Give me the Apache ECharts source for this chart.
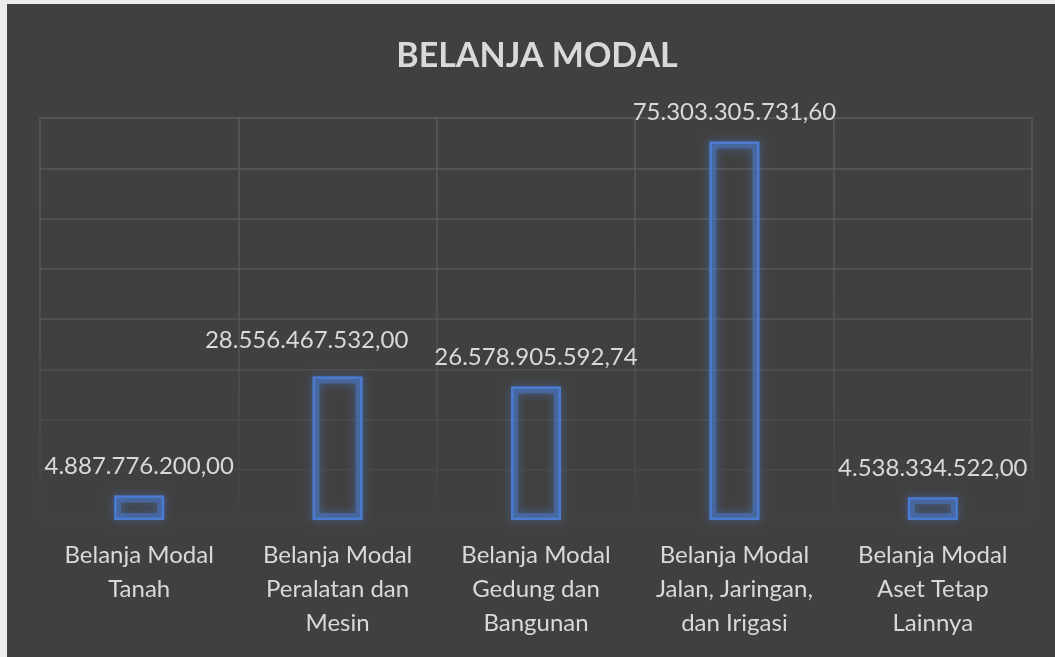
<!DOCTYPE html>
<html>
<head>
<meta charset="utf-8">
<script src="https://cdn.jsdelivr.net/npm/echarts@6/dist/echarts.min.js"></script>
<style>
  html, body { margin: 0; padding: 0; background: #ececec; width: 1055px; height: 657px; overflow: hidden; }
  #chart { position: absolute; left: 7px; top: 4px; width: 1048px; height: 653px; background: #404040; }
</style>
</head>
<body>
<div id="chart"></div>
<script>
const titleText = 'BELANJA MODAL';
const categories = [
  'Belanja Modal\nTanah',
  'Belanja Modal\nPeralatan dan\nMesin',
  'Belanja Modal\nGedung dan\nBangunan',
  'Belanja Modal\nJalan, Jaringan,\ndan Irigasi',
  'Belanja Modal\nAset Tetap\nLainnya'
];
const values = [4887776200.00, 28556467532.00, 26578905592.74, 75303305731.60, 4538334522.00];
const axisMin = 0;
const axisMax = 80000000000;
const axisInterval = 10000000000;

function fmtID(v) {
  const parts = v.toFixed(2).split('.');
  const intPart = parts[0].replace(/\B(?=(\d{3})+(?!\d))/g, '.');
  return intPart + ',' + parts[1];
}

const gridFade = {
  type: 'linear', global: true, x: 0, y: 114, x2: 0, y2: 516,
  colorStops: [
    { offset: 0, color: '#5b5b5b' },
    { offset: 0.55, color: '#535353' },
    { offset: 1, color: '#424242' }
  ]
};

const chart = echarts.init(document.getElementById('chart'), null, { renderer: 'canvas' });
chart.setOption({
  backgroundColor: '#404040',
  animation: false,
  title: {
    text: titleText,
    left: 525,
    textAlign: 'center',
    top: 30,
    textStyle: { color: '#d9d9d9', fontFamily: 'Lato', fontWeight: 'bold', fontSize: 34 }
  },
  grid: { left: 33, right: 23, top: 114, bottom: 137, containLabel: false },
  xAxis: {
    type: 'category',
    data: categories,
    boundaryGap: true,
    axisLine: { show: false },
    axisTick: { show: false },
    splitLine: { show: true, interval: 0, lineStyle: { color: gridFade, width: 1.5 } },
    axisLabel: {
      interval: 0,
      margin: 18,
      color: '#d9d9d9',
      fontFamily: 'Lato',
      fontSize: 24,
      lineHeight: 34,
      align: 'center'
    }
  },
  yAxis: {
    type: 'value',
    min: axisMin,
    max: axisMax,
    interval: axisInterval,
    axisLine: { show: false },
    axisTick: { show: false },
    axisLabel: { show: false },
    splitLine: { show: true, lineStyle: { color: gridFade, width: 1.5 } }
  },
  series: [{
    type: 'bar',
    name: 'glow',
    data: values,
    barWidth: 50,
    silent: true,
    z: 1,
    itemStyle: {
      color: 'none',
      borderColor: 'rgba(74,123,209,0.5)',
      borderWidth: 7,
      shadowBlur: 10,
      shadowColor: 'rgba(74,123,209,1)'
    }
  }, {
    type: 'bar',
    name: 'bars',
    data: values,
    barWidth: 50,
    barGap: '-100%',
    z: 2,
    itemStyle: {
      color: 'none',
      borderColor: '#4a7bd1',
      borderWidth: 2.5
    },
    label: {
      show: true,
      position: 'top',
      distance: 16,
      color: '#d9d9d9',
      fontFamily: 'Lato',
      fontSize: 24,
      formatter: p => fmtID(p.value)
    },
    labelLayout: function (params) {
      // Excel nudges the second label left/up so it does not collide with its neighbour
      if (params.dataIndex === 1) {
        return { x: params.labelRect.x + params.labelRect.width / 2 - 31, y: params.labelRect.y + params.labelRect.height / 2 - 7, align: 'center', verticalAlign: 'middle' };
      }
      return {};
    }
  }]
});
</script>
</body>
</html>
